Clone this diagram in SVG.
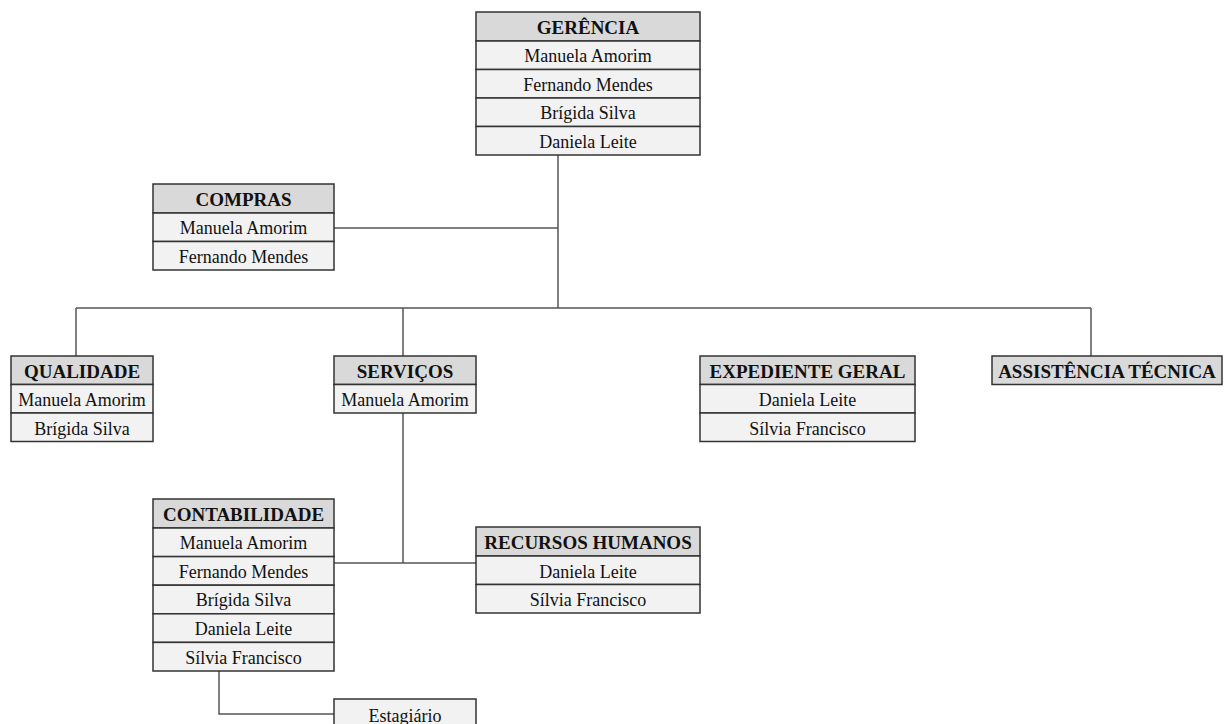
<svg xmlns="http://www.w3.org/2000/svg" width="1225" height="724" viewBox="0 0 1225 724">
<style>
.h{fill:#d9d9d9;stroke:#333;stroke-width:1.5}
.r{fill:#f2f2f2;stroke:#333;stroke-width:1.5}
.ht{font-family:"Liberation Serif","Times New Roman",serif;font-weight:bold;font-size:19px;fill:#111;text-anchor:middle}
.rt{font-family:"Liberation Serif","Times New Roman",serif;font-size:18px;fill:#111;text-anchor:middle}
.c{fill:none;stroke:#555;stroke-width:1.5}
</style>
<rect width="1225" height="724" fill="#fff"/>
<g id="connectors">
<path class="c" d="M558 155V308"/>
<path class="c" d="M334 228H558"/>
<path class="c" d="M76 308H1091"/>
<path class="c" d="M76 308V356"/>
<path class="c" d="M403 308V356"/>
<path class="c" d="M1091 308V356"/>
<path class="c" d="M403 413V563"/>
<path class="c" d="M334 563H476"/>
<path class="c" d="M219 671V714H334"/>
</g>
<g id="gerencia">
<rect class="h" x="476" y="12" width="224" height="29"/>
<rect class="r" x="476" y="41" width="224" height="28.5"/>
<rect class="r" x="476" y="69.5" width="224" height="28.5"/>
<rect class="r" x="476" y="98" width="224" height="28.5"/>
<rect class="r" x="476" y="126.5" width="224" height="28.5"/>
<text class="ht" x="588" y="33.5">GERÊNCIA</text>
<text class="rt" x="588" y="62">Manuela Amorim</text>
<text class="rt" x="588" y="91">Fernando Mendes</text>
<text class="rt" x="588" y="119">Brígida Silva</text>
<text class="rt" x="588" y="148">Daniela Leite</text>
</g>
<g id="compras">
<rect class="h" x="153" y="184" width="181" height="29"/>
<rect class="r" x="153" y="213" width="181" height="28.5"/>
<rect class="r" x="153" y="241.5" width="181" height="28.5"/>
<text class="ht" x="243.5" y="205.5">COMPRAS</text>
<text class="rt" x="243.5" y="234">Manuela Amorim</text>
<text class="rt" x="243.5" y="263">Fernando Mendes</text>
</g>
<g id="qualidade">
<rect class="h" x="11" y="356" width="142" height="28.5"/>
<rect class="r" x="11" y="384.5" width="142" height="28.5"/>
<rect class="r" x="11" y="413" width="142" height="28.5"/>
<text class="ht" x="82" y="377.5">QUALIDADE</text>
<text class="rt" x="82" y="406">Manuela Amorim</text>
<text class="rt" x="82" y="435">Brígida Silva</text>
</g>
<g id="servicos">
<rect class="h" x="334" y="356" width="142" height="28.5"/>
<rect class="r" x="334" y="384.5" width="142" height="28.5"/>
<text class="ht" x="405" y="377.5">SERVIÇOS</text>
<text class="rt" x="405" y="406">Manuela Amorim</text>
</g>
<g id="expediente">
<rect class="h" x="700" y="356" width="215" height="28.5"/>
<rect class="r" x="700" y="384.5" width="215" height="28.5"/>
<rect class="r" x="700" y="413" width="215" height="28.5"/>
<text class="ht" x="807.5" y="377.5">EXPEDIENTE GERAL</text>
<text class="rt" x="807.5" y="406">Daniela Leite</text>
<text class="rt" x="807.5" y="435">Sílvia Francisco</text>
</g>
<g id="assistencia">
<rect class="h" x="992" y="356" width="230" height="28.5"/>
<text class="ht" x="1107" y="377.5">ASSISTÊNCIA TÉCNICA</text>
</g>
<g id="contabilidade">
<rect class="h" x="153" y="499" width="181" height="29"/>
<rect class="r" x="153" y="528" width="181" height="28.6"/>
<rect class="r" x="153" y="556.6" width="181" height="28.6"/>
<rect class="r" x="153" y="585.2" width="181" height="28.6"/>
<rect class="r" x="153" y="613.8" width="181" height="28.6"/>
<rect class="r" x="153" y="642.4" width="181" height="28.6"/>
<text class="ht" x="243.5" y="520.5">CONTABILIDADE</text>
<text class="rt" x="243.5" y="549">Manuela Amorim</text>
<text class="rt" x="243.5" y="578">Fernando Mendes</text>
<text class="rt" x="243.5" y="606">Brígida Silva</text>
<text class="rt" x="243.5" y="635">Daniela Leite</text>
<text class="rt" x="243.5" y="664">Sílvia Francisco</text>
</g>
<g id="recursos">
<rect class="h" x="476" y="527" width="224" height="29"/>
<rect class="r" x="476" y="556" width="224" height="28.5"/>
<rect class="r" x="476" y="584.5" width="224" height="28.5"/>
<text class="ht" x="588" y="548.5">RECURSOS HUMANOS</text>
<text class="rt" x="588" y="578">Daniela Leite</text>
<text class="rt" x="588" y="606">Sílvia Francisco</text>
</g>
<g id="estagiario">
<rect class="r" x="334" y="699" width="142" height="30"/>
<text class="rt" x="405" y="722">Estagiário</text>
</g>
</svg>
